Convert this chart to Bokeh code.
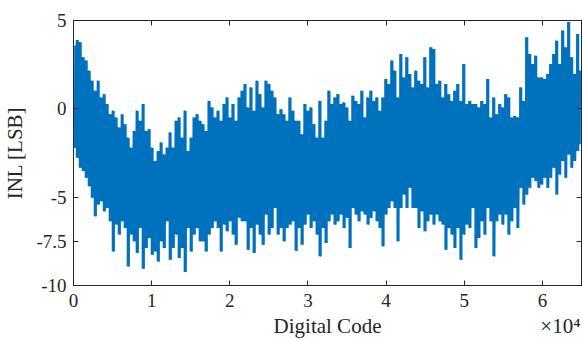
import numpy as np
from bokeh.plotting import figure
from bokeh.models import LinearAxis, FixedTicker, CustomJSTickFormatter, Range1d
from bokeh.embed import file_html
from bokeh.resources import INLINE

code_max = 65000
x_ticks = [0, 10000, 20000, 30000, 40000, 50000, 60000]
y_ticks = [-10, -7.5, -5, 0, 5]
x_label = "Digital Code"
x_exponent = "×10⁴"
y_label = "INL [LSB]"

# local maxima of the INL trace (LSB), left to right
inl_peak = [
    3.58, 3.90, 3.77, 2.92, 2.73, 2.16, 1.59, 1.02, 1.59, 0.64,
    0.83, 0.27, -0.30, -0.11, -0.49, -1.06, -0.30, -0.87, -1.63, -2.20,
    -1.25, -0.11, -0.68, 0.27, -1.25, -1.16, -2.20, -2.95, -2.39, -1.91,
    -2.58, -2.20, -1.34, -2.20, -0.68, -0.49, -1.63, -0.11, -2.39, -1.63,
    -0.49, -0.30, -0.68, -0.87, -1.25, 0.45, 0.08, -0.49, -0.11, -0.68,
    0.27, 0.64, -0.49, 0.27, -0.68, 0.64, 1.02,
    1.40, 0.08, 1.21, -0.11, 1.59, 0.83, 0.08, 1.59, 1.40, 1.02,
    0.64, -0.30, -0.02, -0.30, -0.68, 0.64, -0.11, -0.68, -0.68, -1.44,
    0.27, -0.11, 0.08, -0.87, -1.63, 0.45, -1.63, -0.68, 1.02, 0.27,
    0.64, 0.83, 0.27, 0.36, 0.08, -0.68, 0.74, 0.45, 0.27, 1.02,
    -0.49, 0.64, 1.02, 0.45, 0.64, -0.11, 0.64, 1.69, 1.40, 2.73,
    2.16, 0.64, 3.11, 1.78, 2.92, 1.97,
    1.21, 2.16, 1.59, 1.40, 2.92, 1.21, 3.48, 3.39, 1.40, 1.59,
    0.64, 1.40, 0.83, 0.45, 1.02, 1.40, 0.45, 2.54, 0.27, 0.45,
    0.27, 0.27, 0.08, 0.45, 0.27, 1.69, -0.49, 0.64, -0.30, 0.27,
    0.08, 0.83, 0.64, -0.49, -0.40, -0.49, 1.21, 0.45, 4.05, 3.11,
    2.54, 3.01, 1.78, 1.78, 1.69, 1.97, 2.54, 3.11, 3.86, 2.54,
    4.43, 3.48, 4.91, 2.92, 1.97, 4.24, 2.16,
]

# local minima of the INL trace (LSB), left to right
inl_trough = [
    -2.20, -2.77, -3.33, -3.52, -3.90, -4.38, -5.04, -6.08, -5.42, -5.23,
    -5.80, -5.61, -6.36, -8.07, -6.55, -7.12, -6.36, -6.74, -8.92, -7.12,
    -7.50, -8.16, -6.74, -9.05, -7.88, -7.31, -8.26, -8.07, -8.64, -7.50,
    -7.88, -6.36, -8.54, -7.88, -7.12, -8.45, -7.88, -9.24, -6.74, -8.07,
    -7.12, -6.74, -7.50, -7.50, -8.07, -7.12, -6.74, -6.36, -6.74, -8.07,
    -6.55, -6.93, -6.36, -7.12, -7.69, -6.17, -6.36,
    -6.36, -7.97, -6.74, -8.16, -6.55, -7.12, -7.69, -5.98, -7.12, -6.74,
    -5.61, -7.12, -6.74, -7.50, -6.74, -6.55, -6.36, -8.03, -6.74, -7.69,
    -6.55, -5.98, -6.74, -6.36, -7.12, -8.35, -6.74, -7.59, -6.36, -5.98,
    -6.55, -6.36, -5.98, -6.74, -6.17, -7.88, -5.61, -5.98, -6.36, -5.80,
    -5.98, -6.55, -6.17, -5.80, -6.36, -6.74, -7.78, -5.98, -5.61, -5.23,
    -5.61, -7.50, -5.61, -4.85, -5.61, -4.47,
    -5.61, -5.61, -6.74, -5.80, -6.93, -6.36, -5.98, -6.55, -5.98, -6.36,
    -6.55, -7.97, -6.74, -7.12, -7.88, -6.74, -8.54, -7.12, -6.55, -6.74,
    -5.61, -7.88, -7.31, -6.36, -7.12, -5.61, -6.36, -8.35, -6.36, -5.98,
    -6.55, -5.98, -7.12, -6.36, -5.61, -6.74, -4.47, -5.42, -4.85, -4.47,
    -3.90, -4.09, -4.47, -4.28, -3.90, -4.47, -3.90, -3.33, -4.85, -3.71,
    -2.95, -3.90, -2.58, -3.33, -2.95, -2.39, -2.01,
]

n = len(inl_peak)
step = code_max / (n - 0.5)
pair_x = np.arange(n) * step
codes = np.empty(2 * n)
codes[0::2] = pair_x
codes[1::2] = pair_x + step / 2
inl = np.empty(2 * n)
inl[0::2] = inl_peak
inl[1::2] = inl_trough

FONT = "Liberation Serif"
AX = "#262626"
BLUE = "#0072BD"

p = figure(width=582, height=340, output_backend="svg", toolbar_location=None,
           x_range=Range1d(0, code_max), y_range=Range1d(-10, 5),
           min_border_left=73, min_border_right=1, min_border_top=20,
           min_border_bottom=55, background_fill_color="white",
           border_fill_color="white")
p.xgrid.visible = False
p.ygrid.visible = False
p.outline_line_color = AX
p.outline_line_width = 1

# each group of codes spans from its trough to its peak (overplotted trace)
p.varea_step(x=pair_x + step / 4, y1=inl_trough, y2=inl_peak,
             step_mode="center", fill_color=BLUE)
p.line(codes, inl, line_color=BLUE, line_width=1.0)

def style(ax, ticks, label_size="19px"):
    ax.ticker = FixedTicker(ticks=ticks)
    ax.major_tick_in = 5
    ax.major_tick_out = 0
    ax.minor_tick_line_color = None
    ax.axis_line_color = AX
    ax.major_tick_line_color = AX
    ax.major_label_text_font = FONT
    ax.major_label_text_font_size = label_size
    ax.major_label_text_color = AX
    ax.axis_label_text_font = FONT
    ax.axis_label_text_font_size = "21px"
    ax.axis_label_text_font_style = "normal"
    ax.axis_label_text_color = AX

xa = p.xaxis[0]
style(xa, x_ticks)
xa.formatter = CustomJSTickFormatter(code="return (tick/10000).toString();")
xa.major_label_standoff = 8

ya = p.yaxis[0]
style(ya, y_ticks)
ya.formatter = CustomJSTickFormatter(code="return tick.toString();")
ya.axis_label = y_label
ya.major_label_standoff = 7
ya.axis_label_standoff = 6

# second "below" axis carries the axis title and the x10^4 multiplier
lab_axis = LinearAxis()
lab_ticks = [code_max / 2, 62300]
lab_axis.ticker = FixedTicker(ticks=lab_ticks)
lab_axis.major_label_overrides = {lab_ticks[0]: x_label, lab_ticks[1]: x_exponent}
lab_axis.axis_line_color = None
lab_axis.major_tick_line_color = None
lab_axis.minor_tick_line_color = None
lab_axis.major_tick_in = 0
lab_axis.major_tick_out = 0
lab_axis.major_label_standoff = 4
lab_axis.major_label_text_font = FONT
lab_axis.major_label_text_font_size = "21px"
lab_axis.major_label_text_color = AX
p.add_layout(lab_axis, "below")

empty = CustomJSTickFormatter(code="return '';")
top = LinearAxis()
style(top, x_ticks, "1px")
top.formatter = empty
top.major_label_standoff = 0
p.add_layout(top, "above")

right = LinearAxis()
style(right, y_ticks, "1px")
right.formatter = empty
right.major_label_standoff = 0
p.add_layout(right, "right")

open("out.html", "w").write(file_html(p, INLINE))
